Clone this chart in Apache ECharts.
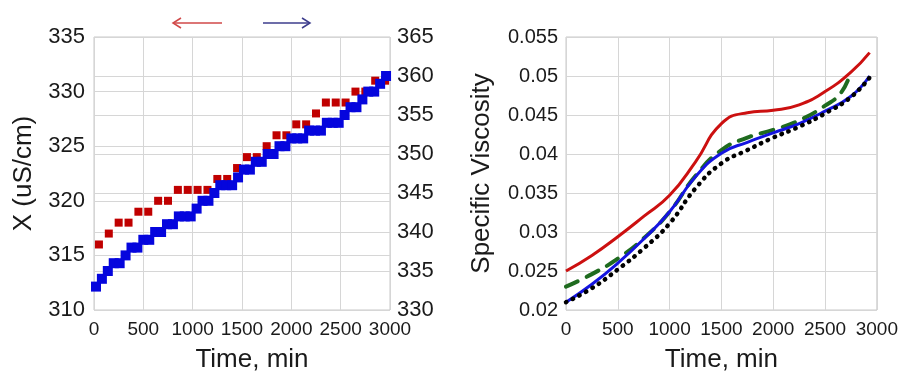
<!DOCTYPE html>
<html>
<head>
<meta charset="utf-8">
<script src="https://cdn.jsdelivr.net/npm/echarts@6/dist/echarts.min.js"></script>
<style>
  html, body { margin: 0; padding: 0; background: #fff; }
  #chart { width: 901px; height: 378px; }
</style>
</head>
<body>
<div id="chart"></div>
<script>
// left panel: conductivity (left axis, red) and right-axis series (blue)
const redTime = [50, 150, 250, 350, 450, 550, 650, 750, 850, 950, 1050, 1150, 1250, 1350, 1450,
  1550, 1650, 1750, 1850, 1950, 2050, 2150, 2250, 2350, 2450, 2550, 2650, 2750, 2850, 2950]
const redX = [316, 317, 318, 318, 319, 319, 320, 320, 321, 321, 321, 321, 322, 322, 323,
  324, 324, 325, 326, 326, 327, 327, 328, 329, 329, 329, 330, 330, 331, 331]

const blueTime = [20, 80, 140, 200, 260, 320, 380, 440, 500, 560, 620, 680, 740, 800, 860, 920, 980,
  1040, 1100, 1160, 1220, 1280, 1340, 1400, 1460, 1520, 1580, 1640, 1700, 1760, 1820, 1880, 1940,
  2000, 2060, 2120, 2180, 2240, 2300, 2360, 2420, 2480, 2540, 2600, 2660, 2720, 2780, 2840, 2900, 2960]
const blueX = [333, 334, 335, 336, 336, 337, 338, 338, 339, 339, 340, 340, 341, 341, 342, 342, 342,
  343, 344, 344, 345, 346, 346, 346, 347, 348, 348, 349, 349, 350, 350, 351, 351,
  352, 352, 352, 353, 353, 353, 354, 354, 354, 355, 356, 356, 357, 358, 358, 359, 360]

// right panel: specific viscosity curves
const redVisTime = [0, 250, 500, 750, 1000, 1250, 1500, 1750, 2000, 2250, 2500, 2750, 2930]
const redVis = [0.0250, 0.0270, 0.0294, 0.0320, 0.0347, 0.0390, 0.0439, 0.0453, 0.0456,
  0.0463, 0.0480, 0.0505, 0.0530]

const greenVisTime = [0, 250, 500, 750, 1000, 1250, 1500, 1750, 2000, 2250, 2500, 2650, 2740]
const greenVis = [0.0230, 0.0246, 0.0266, 0.0292, 0.0326, 0.0372, 0.0405, 0.0421, 0.0431, 0.0443,
  0.0462, 0.0478, 0.0502]

const blueVisTime = [0, 250, 500, 750, 1000, 1250, 1500, 1750, 2000, 2250, 2500, 2750, 2930]
const blueVis = [0.0210, 0.0233, 0.0260, 0.0291, 0.0326, 0.0371, 0.0401, 0.0415,
  0.0427, 0.0439, 0.0455, 0.0474, 0.0500]

const blackVisTime = [0, 250, 500, 750, 1000, 1250, 1500, 1750, 2000, 2250, 2500, 2750, 2930]
const blackVis = [0.0210, 0.0228, 0.0252, 0.0279, 0.0311, 0.0356, 0.0388, 0.0405, 0.0421, 0.0435,
  0.0452, 0.0473, 0.0498]

const zip = (xs, ys) => xs.map((x, i) => [x, ys[i]])

const FONT = 'Liberation Sans, Arial, sans-serif'
const TXT = '#1a1a1a'
const GRIDC = '#d6d6d6'

const timeAxis = (gridIndex, nameShift) => ({
  type: 'value',
  gridIndex,
  min: 0,
  max: 3000,
  interval: 500,
  name: 'Time, min',
  nameLocation: 'middle',
  nameGap: 37,
  nameTextStyle: { fontFamily: FONT, fontSize: 26, color: TXT, padding: [0, 0, 0, nameShift] },
  axisLine: { show: false },
  axisTick: { show: false },
  axisLabel: { fontFamily: FONT, fontSize: 19, color: TXT, margin: 10, formatter: v => String(v) },
  splitLine: { show: true, lineStyle: { color: GRIDC, width: 1 } }
})

const chart = echarts.init(document.getElementById('chart'), null, { renderer: 'canvas' })

chart.setOption({
  backgroundColor: '#fff',
  animation: false,
  grid: [
    { left: 94, right: 511, top: 37, bottom: 64, show: true, borderColor: '#c8c8c8', borderWidth: 1 },
    { left: 566, right: 24, top: 37, bottom: 64, show: true, borderColor: '#c8c8c8', borderWidth: 1 }
  ],
  xAxis: [timeAxis(0, 20), timeAxis(1, 0)],
  yAxis: [
    {
      type: 'value', gridIndex: 0, position: 'left',
      min: 310, max: 335, interval: 5,
      name: 'X (uS/cm)', nameLocation: 'middle', nameGap: 57,
      nameTextStyle: { fontFamily: FONT, fontSize: 26, color: TXT },
      axisLine: { show: false }, axisTick: { show: false },
      axisLabel: { fontFamily: FONT, fontSize: 22, color: TXT, margin: 9 },
      splitLine: { show: true, lineStyle: { color: GRIDC, width: 1 } }
    },
    {
      type: 'value', gridIndex: 0, position: 'right',
      min: 330, max: 365, interval: 5,
      axisLine: { show: false }, axisTick: { show: false },
      axisLabel: { fontFamily: FONT, fontSize: 22, color: TXT, margin: 7 },
      splitLine: { show: true, lineStyle: { color: GRIDC, width: 1 } }
    },
    {
      type: 'value', gridIndex: 1,
      min: 0.02, max: 0.055, interval: 0.005,
      name: 'Specific Viscosity', nameLocation: 'middle', nameGap: 71,
      nameTextStyle: { fontFamily: FONT, fontSize: 26, color: TXT },
      axisLine: { show: false }, axisTick: { show: false },
      axisLabel: { fontFamily: FONT, fontSize: 20, color: TXT, margin: 8 },
      splitLine: { show: true, lineStyle: { color: GRIDC, width: 1 } }
    }
  ],
  series: [
    {
      type: 'scatter', xAxisIndex: 0, yAxisIndex: 0,
      symbol: 'rect', symbolSize: 8,
      itemStyle: { color: '#c00000', opacity: 1 },
      data: zip(redTime, redX)
    },
    {
      type: 'scatter', xAxisIndex: 0, yAxisIndex: 1,
      symbol: 'rect', symbolSize: 10,
      itemStyle: { color: '#0505dd', opacity: 1 },
      data: zip(blueTime, blueX)
    },
    {
      type: 'line', xAxisIndex: 1, yAxisIndex: 2,
      smooth: 0.5, showSymbol: false,
      lineStyle: { color: '#cc1010', width: 3 },
      data: zip(redVisTime, redVis)
    },
    {
      type: 'line', xAxisIndex: 1, yAxisIndex: 2,
      smooth: 0.5, showSymbol: false,
      lineStyle: { color: '#1f6b1f', width: 4, type: [13, 10], cap: 'round' },
      data: zip(greenVisTime, greenVis)
    },
    {
      type: 'line', xAxisIndex: 1, yAxisIndex: 2,
      smooth: 0.5, showSymbol: false,
      lineStyle: { color: '#1414e0', width: 3 },
      data: zip(blueVisTime, blueVis)
    },
    {
      type: 'line', xAxisIndex: 1, yAxisIndex: 2,
      smooth: 0.5, showSymbol: false,
      lineStyle: { color: '#000', width: 4.5, type: [0.5, 7], cap: 'round' },
      data: zip(blackVisTime, blackVis)
    }
  ],
  // axis-direction arrows above the left panel
  graphic: [
    { type: 'line', shape: { x1: 173, y1: 23, x2: 222, y2: 23 }, style: { stroke: '#d04848', lineWidth: 1.5 } },
    { type: 'polyline', shape: { points: [[181, 18], [173, 23], [181, 28]] }, style: { stroke: '#d04848', lineWidth: 1.5, fill: null } },
    { type: 'line', shape: { x1: 263, y1: 23, x2: 310, y2: 23 }, style: { stroke: '#3c3c8c', lineWidth: 1.5 } },
    { type: 'polyline', shape: { points: [[302, 18], [310, 23], [302, 28]] }, style: { stroke: '#3c3c8c', lineWidth: 1.5, fill: null } }
  ]
})
</script>
</body>
</html>
